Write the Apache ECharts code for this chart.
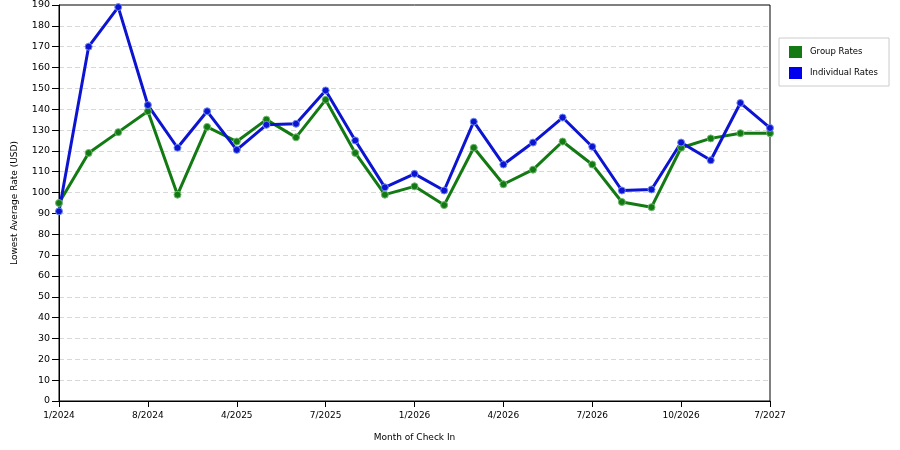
<!DOCTYPE html>
<html>
<head>
<meta charset="utf-8">
<style>
html, body { margin: 0; padding: 0; background: #fff; }
#chart { width: 900px; height: 450px; }
</style>
<script src="https://cdn.jsdelivr.net/npm/echarts@6/dist/echarts.min.js"></script>
</head>
<body>
<div id="chart"></div>
<script type="text/javascript">
// months of check in (only every 3rd one is labelled)
var months = ['1/2024', '3/2024', '6/2024', '8/2024', '10/2024', '1/2025', '4/2025', '5/2025', '6/2025',
              '7/2025', '9/2025', '11/2025', '1/2026', '2/2026', '3/2026', '4/2026', '5/2026', '6/2026',
              '7/2026', '8/2026', '9/2026', '10/2026', '12/2026', '4/2027', '7/2027'];

var groupRates = [95, 119, 129, 139, 99, 131.5, 124.5, 135, 126.5, 144.5, 119, 99, 103, 94, 121.5,
                  104, 111, 124.5, 113.5, 95.5, 93, 121.5, 126, 128.5, 128.5];

var individualRates = [91, 170, 189, 142, 121.5, 139, 120.5, 132.5, 133, 149, 125, 102.5, 109, 101, 134,
                       113.5, 124, 136, 122, 101, 101.5, 124, 115.5, 143, 131];

var yTicks = { min: 0, max: 190, interval: 10 };

var myChart = echarts.init(document.getElementById('chart'));
var font = 'DejaVu Sans, Verdana, sans-serif';

function makeSeries(name, data, color, halo) {
  return {
    name: name,
    type: 'line',
    data: data,
    symbol: 'circle',
    symbolSize: 7,
    lineStyle: { width: 3, color: color },
    itemStyle: { color: color, borderColor: halo, borderWidth: 1 },
    emphasis: { disabled: true },
    animation: false
  };
}

var option = {
  backgroundColor: '#fff',
  textStyle: { fontFamily: font },
  grid: {
    left: 59, right: 130, top: 5, bottom: 49,
    show: true, borderColor: '#000', borderWidth: 1, backgroundColor: '#fff'
  },
  legend: {
    orient: 'vertical',
    left: 779, top: 38,
    padding: [8, 11, 7, 10],
    itemGap: 9,
    itemWidth: 13, itemHeight: 12,
    icon: 'rect',
    borderColor: '#cccccc', borderWidth: 1,
    itemStyle: { borderWidth: 0 },
    textStyle: { fontFamily: font, fontSize: 8.5, color: '#000', padding: [0, 0, 0, 3] },
    data: [
      { name: 'Group Rates', itemStyle: { color: '#137a13', borderWidth: 0 } },
      { name: 'Individual Rates', itemStyle: { color: '#0000ee', borderWidth: 0 } }
    ]
  },
  xAxis: {
    type: 'category',
    data: months,
    boundaryGap: false,
    name: 'Month of Check In',
    nameLocation: 'middle',
    nameGap: 32,
    nameTextStyle: { fontFamily: font, fontSize: 9, color: '#000' },
    axisLine: { lineStyle: { color: '#000', width: 1 } },
    axisTick: { interval: 2, length: 6, lineStyle: { color: '#000' } },
    axisLabel: { interval: 2, fontFamily: font, fontSize: 9, color: '#000', margin: 10 },
    splitLine: { show: false }
  },
  yAxis: {
    type: 'value',
    min: yTicks.min, max: yTicks.max, interval: yTicks.interval,
    name: 'Lowest Average Rate (USD)',
    nameLocation: 'middle',
    nameRotate: 90,
    nameGap: 40,
    nameTextStyle: { fontFamily: font, fontSize: 9, color: '#000' },
    axisLine: { show: true, lineStyle: { color: '#000', width: 1 } },
    axisTick: { show: true, length: 7, lineStyle: { color: '#000' } },
    axisLabel: { fontFamily: font, fontSize: 9.5, color: '#000', margin: 9 },
    splitLine: { show: true, showMaxLine: false, showMinLine: false, lineStyle: { color: '#d8d8d8', type: [5, 3] } }
  },
  series: [
    makeSeries('Group Rates', groupRates, '#137a13', '#6fb86f'),
    makeSeries('Individual Rates', individualRates, '#0c14d2', '#6f8cf0')
  ]
};

myChart.setOption(option, true);
</script>
</body>
</html>
